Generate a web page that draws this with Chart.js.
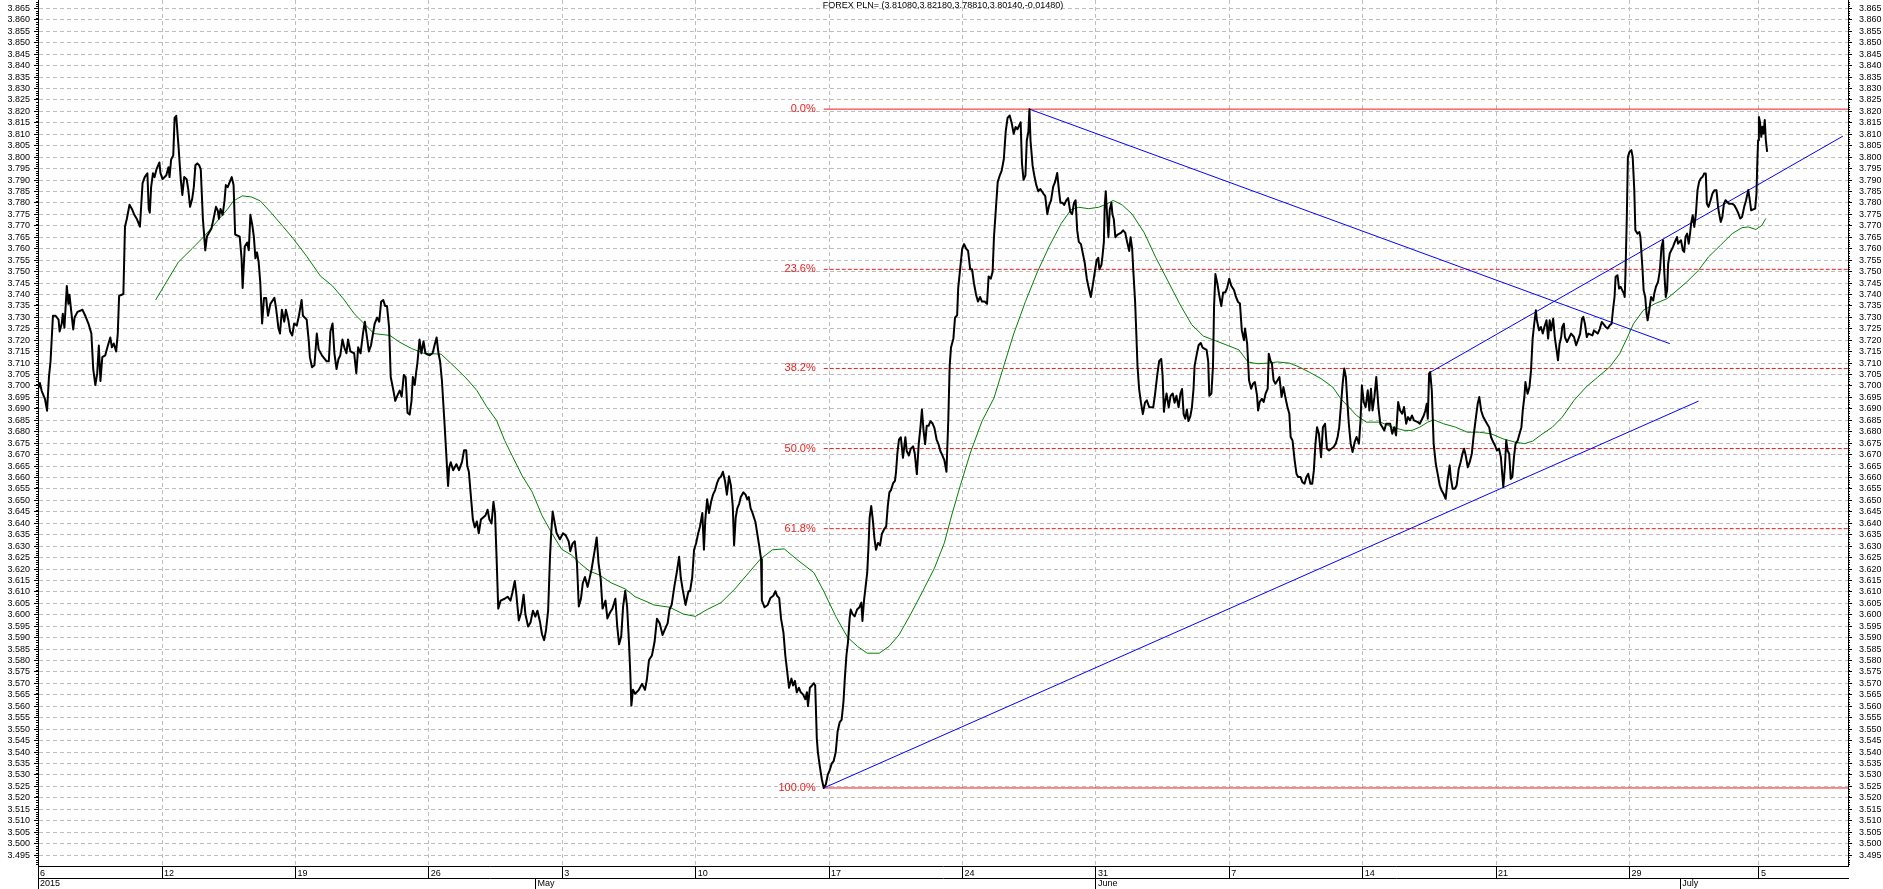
<!DOCTYPE html>
<html>
<head>
<meta charset="utf-8">
<title>FOREX PLN=</title>
<script src="https://cdn.jsdelivr.net/npm/chart.js@4.4.0/dist/chart.umd.min.js"></script>
<style>
    html, body { margin: 0; padding: 0; background: #fff; }
    #grafico { display: block; }
</style>
</head>
<body>
<canvas id="grafico" width="1883" height="889"></canvas>
<script>
// trading-day axis: every week tick is 5 days apart
var dayTicks = [0.35, 5, 10, 15, 20, 25, 30, 35, 40, 45, 50, 55, 60, 64.85];
var dayLabels = ['6', '12', '19', '26', '3', '10', '17', '24', '31', '7', '14', '21', '29', '5'];
var monthTicks = [0.35, 19, 40, 61.9];
var monthLabels = ['2015', 'May', 'June', 'July'];

var titulo = 'FOREX PLN= (3.81080,3.82180,3.78810,3.80140,-0.01480)';

// [day, close]
var precio = [
    [0.35,3.6987],[0.42,3.7013],[0.49,3.6978],[0.61,3.6944],[0.69,3.6892],[0.76,3.7039],[0.82,3.7108],[0.91,3.7307],[1.01,3.7307],[1.12,3.7290],
    [1.16,3.7238],[1.24,3.7273],[1.28,3.7316],[1.34,3.7255],[1.43,3.7437],[1.49,3.7359],[1.53,3.7399],[1.59,3.7333],[1.67,3.7247],[1.72,3.7299],
    [1.83,3.7324],[2.02,3.7333],[2.12,3.7307],[2.24,3.7273],[2.35,3.7229],[2.42,3.7074],[2.50,3.7004],[2.57,3.7056],[2.63,3.7177],[2.69,3.7022],
    [2.76,3.7126],[2.87,3.7134],[2.97,3.7177],[3.06,3.7212],[3.12,3.7169],[3.19,3.7186],[3.28,3.7151],[3.34,3.7229],[3.39,3.7394],[3.55,3.7402],
    [3.61,3.7696],[3.68,3.7731],[3.78,3.7792],[3.87,3.7774],[3.96,3.7748],[4.05,3.7731],[4.17,3.7696],[4.27,3.7887],[4.35,3.7913],[4.45,3.7930],
    [4.50,3.7774],[4.54,3.7757],[4.59,3.7869],[4.66,3.7930],[4.72,3.7913],[4.79,3.7947],[4.90,3.7977],[4.94,3.7930],[5.02,3.7904],[5.16,3.7921],
    [5.24,3.7956],[5.28,3.7913],[5.34,3.7990],[5.42,3.8008],[5.47,3.8172],[5.53,3.8181],[5.62,3.8042],[5.70,3.7904],[5.76,3.7835],[5.83,3.7913],
    [5.92,3.7904],[5.98,3.7861],[6.05,3.7783],[6.13,3.7818],[6.19,3.7869],[6.25,3.7965],[6.32,3.7973],[6.39,3.7965],[6.45,3.7947],[6.53,3.7731],
    [6.62,3.7593],[6.68,3.7653],[6.85,3.7688],[6.93,3.7731],[7.02,3.7783],[7.09,3.7766],[7.13,3.7731],[7.19,3.7774],[7.27,3.7748],[7.34,3.7809],
    [7.39,3.7878],[7.46,3.7869],[7.61,3.7913],[7.68,3.7878],[7.74,3.7662],[7.91,3.7653],[7.98,3.7558],[8.02,3.7428],[8.10,3.7610],[8.19,3.7627],
    [8.25,3.7593],[8.31,3.7748],[8.38,3.7705],[8.44,3.7653],[8.50,3.7558],[8.56,3.7584],[8.62,3.7541],[8.68,3.7454],[8.75,3.7273],[8.82,3.7385],
    [8.90,3.7385],[8.97,3.7307],[9.06,3.7359],[9.21,3.7385],[9.27,3.7342],[9.36,3.7255],[9.42,3.7229],[9.49,3.7333],[9.58,3.7281],[9.64,3.7333],
    [9.73,3.7290],[9.80,3.7238],[9.88,3.7221],[9.95,3.7273],[10.05,3.7264],[10.13,3.7307],[10.23,3.7376],[10.28,3.7307],[10.42,3.7290],[10.50,3.7195],
    [10.54,3.7126],[10.62,3.7082],[10.71,3.7091],[10.80,3.7229],[10.87,3.7160],[10.99,3.7134],[11.17,3.7108],[11.25,3.7108],[11.31,3.7238],[11.39,3.7273],
    [11.46,3.7143],[11.54,3.7074],[11.61,3.7117],[11.68,3.7134],[11.76,3.7203],[11.83,3.7169],[11.91,3.7143],[11.97,3.7203],[12.06,3.7151],[12.20,3.7143],
    [12.28,3.7056],[12.35,3.7169],[12.44,3.7143],[12.53,3.7229],[12.60,3.7281],[12.68,3.7212],[12.75,3.7151],[12.83,3.7177],[12.97,3.7273],[13.06,3.7299],
    [13.14,3.7281],[13.21,3.7368],[13.29,3.7376],[13.36,3.7350],[13.43,3.7350],[13.51,3.7255],[13.57,3.7039],[13.66,3.6987],[13.74,3.6935],[13.83,3.6961],
    [13.91,3.6980],[13.98,3.6953],[14.06,3.7048],[14.13,3.7039],[14.20,3.6883],[14.28,3.6875],[14.35,3.6935],[14.40,3.7039],[14.47,3.7004],[14.52,3.7056],
    [14.57,3.7100],[14.65,3.7203],[14.72,3.7143],[14.80,3.7195],[14.87,3.7143],[15.02,3.7134],[15.14,3.7143],[15.21,3.7177],[15.29,3.7212],[15.36,3.7143],
    [15.42,3.7108],[15.49,3.7022],[15.58,3.6849],[15.64,3.6728],[15.72,3.6563],[15.76,3.6641],[15.82,3.6667],[15.91,3.6632],[16.03,3.6658],[16.13,3.6632],
    [16.24,3.6667],[16.32,3.6719],[16.40,3.6719],[16.44,3.6650],[16.50,3.6624],[16.58,3.6511],[16.65,3.6416],[16.72,3.6382],[16.80,3.6408],[16.87,3.6356],
    [16.95,3.6416],[17.12,3.6434],[17.20,3.6459],[17.27,3.6416],[17.35,3.6399],[17.42,3.6494],[17.48,3.6442],[17.54,3.6243],[17.60,3.6027],[17.69,3.6062],
    [17.84,3.6070],[17.95,3.6079],[18.06,3.6062],[18.13,3.6096],[18.22,3.6148],[18.28,3.6088],[18.37,3.5975],[18.46,3.6010],[18.55,3.6088],[18.62,3.6001],
    [18.72,3.5949],[18.81,3.5966],[18.90,3.6018],[18.99,3.5992],[19.07,3.6018],[19.17,3.5966],[19.24,3.5915],[19.32,3.5889],[19.39,3.5932],[19.47,3.6018],
    [19.54,3.6252],[19.58,3.6347],[19.64,3.6451],[19.72,3.6399],[19.79,3.6356],[19.91,3.6330],[20.03,3.6356],[20.13,3.6347],[20.24,3.6321],[20.30,3.6278],
    [20.39,3.6312],[20.47,3.6321],[20.55,3.6226],[20.62,3.6036],[20.70,3.6070],[20.77,3.6139],[20.85,3.6165],[20.95,3.6122],[21.02,3.6157],[21.10,3.6200],
    [21.21,3.6278],[21.29,3.6338],[21.36,3.6226],[21.44,3.6157],[21.51,3.6027],[21.62,3.6062],[21.69,3.5984],[21.79,3.6010],[21.88,3.6027],[21.99,3.6070],
    [22.06,3.5949],[22.13,3.5871],[22.21,3.5906],[22.28,3.6036],[22.36,3.6105],[22.43,3.6036],[22.50,3.5880],[22.55,3.5742],[22.59,3.5603],[22.65,3.5672],
    [22.73,3.5655],[22.87,3.5672],[22.99,3.5698],[23.10,3.5672],[23.17,3.5716],[23.25,3.5802],[23.36,3.5822],[23.46,3.5882],[23.55,3.5983],[23.65,3.5963],
    [23.76,3.5912],[23.87,3.5943],[23.95,3.5963],[24.02,3.6023],[24.10,3.6043],[24.20,3.6123],[24.29,3.6184],[24.38,3.6254],[24.44,3.6164],[24.51,3.6113],
    [24.62,3.6043],[24.73,3.6103],[24.79,3.6103],[24.87,3.6164],[24.94,3.6284],[25.02,3.6314],[25.09,3.6354],[25.16,3.6385],[25.25,3.6445],[25.31,3.6284],
    [25.36,3.6415],[25.43,3.6505],[25.50,3.6445],[25.58,3.6495],[25.65,3.6525],[25.73,3.6545],[25.80,3.6575],[25.87,3.6595],[25.95,3.6605],[26.02,3.6625],
    [26.10,3.6585],[26.17,3.6525],[26.25,3.6605],[26.32,3.6565],[26.39,3.6475],[26.44,3.6304],[26.50,3.6425],[26.56,3.6465],[26.63,3.6485],[26.69,3.6515],
    [26.79,3.6535],[26.87,3.6525],[26.93,3.6505],[26.99,3.6515],[27.06,3.6465],[27.13,3.6445],[27.24,3.6405],[27.31,3.6354],[27.39,3.6294],[27.45,3.6244],
    [27.48,3.6063],[27.58,3.6033],[27.70,3.6043],[27.80,3.6073],[27.91,3.6083],[27.99,3.6103],[28.05,3.6083],[28.13,3.6073],[28.20,3.5983],[28.29,3.5922],
    [28.36,3.5822],[28.42,3.5762],[28.50,3.5681],[28.59,3.5721],[28.65,3.5691],[28.72,3.5711],[28.79,3.5661],[28.87,3.5681],[28.94,3.5661],[29.03,3.5651],
    [29.11,3.5631],[29.17,3.5661],[29.21,3.5601],[29.28,3.5681],[29.36,3.5691],[29.43,3.5701],[29.48,3.5691],[29.54,3.5460],[29.58,3.5400],[29.65,3.5340],
    [29.73,3.5280],[29.80,3.5243],[29.88,3.5259],[29.95,3.5300],[30.02,3.5320],[30.10,3.5350],[30.17,3.5360],[30.25,3.5400],[30.32,3.5490],[30.40,3.5531],
    [30.47,3.5541],[30.54,3.5621],[30.59,3.5721],[30.65,3.5822],[30.71,3.5882],[30.77,3.5983],[30.81,3.6023],[30.88,3.6003],[30.96,3.5993],[31.05,3.6023],
    [31.14,3.6033],[31.21,3.6053],[31.25,3.5973],[31.31,3.6063],[31.37,3.6123],[31.43,3.6184],[31.48,3.6304],[31.52,3.6425],[31.58,3.6475],[31.64,3.6415],
    [31.70,3.6334],[31.76,3.6284],[31.83,3.6314],[31.91,3.6304],[31.98,3.6354],[32.07,3.6375],[32.14,3.6385],[32.20,3.6475],[32.26,3.6535],[32.32,3.6545],
    [32.40,3.6575],[32.47,3.6585],[32.51,3.6625],[32.56,3.6706],[32.62,3.6766],[32.69,3.6776],[32.77,3.6686],[32.86,3.6776],[32.91,3.6716],[32.99,3.6696],
    [33.06,3.6726],[33.15,3.6736],[33.21,3.6706],[33.29,3.6615],[33.36,3.6746],[33.43,3.6826],[33.48,3.6897],[33.54,3.6806],[33.60,3.6746],[33.66,3.6826],
    [33.73,3.6826],[33.80,3.6846],[33.88,3.6836],[33.95,3.6816],[34.03,3.6766],[34.10,3.6746],[34.17,3.6716],[34.25,3.6696],[34.32,3.6676],[34.40,3.6625],
    [34.47,3.6857],[34.52,3.7088],[34.57,3.7168],[34.66,3.7208],[34.72,3.7299],[34.80,3.7309],[34.84,3.7429],[34.92,3.7520],[34.99,3.7600],[35.06,3.7620],
    [35.14,3.7600],[35.21,3.7590],[35.29,3.7510],[35.36,3.7510],[35.43,3.7449],[35.51,3.7399],[35.58,3.7369],[35.66,3.7389],[35.73,3.7369],[35.83,3.7369],
    [35.92,3.7359],[35.98,3.7479],[36.06,3.7469],[36.13,3.7499],[36.18,3.7650],[36.25,3.7771],[36.32,3.7891],[36.40,3.7921],[36.47,3.7941],[36.55,3.7992],
    [36.62,3.8112],[36.69,3.8172],[36.77,3.8182],[36.84,3.8152],[36.92,3.8102],[36.99,3.8132],[37.06,3.8122],[37.14,3.8142],[37.18,3.8152],[37.23,3.7972],
    [37.29,3.7901],[37.36,3.7921],[37.41,3.8072],[37.47,3.8112],[37.51,3.8210],[37.55,3.8072],[37.63,3.7962],[37.69,3.7921],[37.76,3.7881],[37.84,3.7851],
    [37.92,3.7861],[38.03,3.7841],[38.10,3.7831],[38.18,3.7751],[38.25,3.7791],[38.32,3.7811],[38.40,3.7871],[38.47,3.7891],[38.55,3.7931],[38.62,3.7851],
    [38.67,3.7801],[38.75,3.7801],[38.81,3.7791],[38.89,3.7811],[38.96,3.7821],[39.04,3.7761],[39.11,3.7751],[39.18,3.7801],[39.24,3.7811],[39.30,3.7680],
    [39.36,3.7630],[39.44,3.7620],[39.51,3.7580],[39.58,3.7540],[39.66,3.7469],[39.73,3.7429],[39.81,3.7389],[39.88,3.7439],[39.96,3.7499],[40.03,3.7550],
    [40.09,3.7560],[40.13,3.7510],[40.21,3.7530],[40.25,3.7570],[40.30,3.7630],[40.33,3.7781],[40.37,3.7851],[40.43,3.7730],[40.47,3.7650],[40.52,3.7771],
    [40.58,3.7801],[40.62,3.7751],[40.67,3.7730],[40.73,3.7650],[40.80,3.7660],[40.95,3.7670],[41.02,3.7680],[41.10,3.7670],[41.17,3.7630],[41.25,3.7590],
    [41.30,3.7650],[41.36,3.7600],[41.41,3.7489],[41.47,3.7369],[41.51,3.7248],[41.56,3.7088],[41.62,3.6987],[41.69,3.6927],[41.76,3.6877],[41.84,3.6927],
    [41.91,3.6937],[42.00,3.6907],[42.07,3.6907],[42.15,3.6907],[42.22,3.6967],[42.30,3.7047],[42.37,3.7108],[42.45,3.7118],[42.50,3.7047],[42.55,3.6887],
    [42.59,3.6927],[42.65,3.6967],[42.73,3.6907],[42.80,3.6957],[42.88,3.6967],[42.95,3.6927],[43.02,3.6957],[43.10,3.6907],[43.17,3.6967],[43.23,3.6987],
    [43.29,3.6877],[43.35,3.6857],[43.41,3.6897],[43.47,3.6847],[43.54,3.6867],[43.60,3.6907],[43.66,3.6987],[43.70,3.7088],[43.78,3.7138],[43.85,3.7178],
    [43.93,3.7188],[44.00,3.7168],[44.15,3.7158],[44.21,3.7108],[44.25,3.6957],[44.33,3.6967],[44.39,3.7088],[44.43,3.7349],[44.48,3.7489],[44.55,3.7449],
    [44.62,3.7399],[44.70,3.7349],[44.77,3.7409],[44.85,3.7409],[44.92,3.7429],[45.00,3.7469],[45.07,3.7439],[45.18,3.7418],[45.25,3.7389],[45.33,3.7367],
    [45.40,3.7360],[45.47,3.7243],[45.55,3.7200],[45.59,3.7251],[45.67,3.7185],[45.74,3.7025],[45.82,3.6988],[45.89,3.7010],[45.96,3.7017],[46.04,3.6959],
    [46.08,3.6893],[46.14,3.6930],[46.22,3.6944],[46.29,3.6930],[46.36,3.6966],[46.44,3.6988],[46.48,3.7141],[46.54,3.7112],[46.60,3.7097],[46.66,3.7025],
    [46.73,3.7010],[46.81,3.7025],[46.88,3.7039],[46.96,3.6952],[47.03,3.6995],[47.10,3.6952],[47.18,3.6908],[47.25,3.6879],[47.30,3.6777],[47.37,3.6762],
    [47.45,3.6675],[47.52,3.6616],[47.58,3.6602],[47.67,3.6602],[47.74,3.6580],[47.82,3.6573],[47.89,3.6602],[47.96,3.6616],[48.04,3.6573],[48.11,3.6573],
    [48.17,3.6631],[48.23,3.6748],[48.29,3.6820],[48.36,3.6791],[48.44,3.6689],[48.51,3.6820],[48.59,3.6835],[48.66,3.6726],[48.74,3.6718],[48.91,3.6733],
    [48.99,3.6748],[49.06,3.6777],[49.12,3.6820],[49.18,3.6908],[49.25,3.7010],[49.31,3.7076],[49.37,3.7039],[49.43,3.6922],[49.48,3.6835],[49.55,3.6748],
    [49.62,3.6711],[49.70,3.6755],[49.77,3.6777],[49.86,3.6748],[49.92,3.6850],[49.97,3.7003],[50.04,3.6930],[50.11,3.6908],[50.19,3.6981],[50.25,3.6893],
    [50.31,3.6988],[50.37,3.6893],[50.44,3.6952],[50.51,3.7039],[50.59,3.6908],[50.66,3.6835],[50.81,3.6806],[50.88,3.6835],[51.03,3.6835],[51.11,3.6791],
    [51.18,3.6820],[51.25,3.6784],[51.33,3.6930],[51.40,3.6893],[51.48,3.6879],[51.55,3.6908],[51.63,3.6835],[51.70,3.6864],[51.77,3.6850],[51.85,3.6871],
    [51.92,3.6850],[52.07,3.6842],[52.14,3.6835],[52.29,3.6871],[52.35,3.6893],[52.40,3.6922],[52.44,3.6857],[52.49,3.7054],[52.53,3.7061],[52.59,3.6981],
    [52.66,3.6748],[52.74,3.6660],[52.81,3.6616],[52.89,3.6565],[52.96,3.6543],[53.03,3.6529],[53.11,3.6507],[53.18,3.6587],[53.26,3.6653],[53.30,3.6602],
    [53.37,3.6551],[53.45,3.6551],[53.52,3.6565],[53.60,3.6638],[53.67,3.6667],[53.74,3.6704],[53.80,3.6726],[53.86,3.6697],[53.94,3.6645],[54.01,3.6667],
    [54.09,3.6704],[54.16,3.6784],[54.23,3.6850],[54.31,3.6922],[54.37,3.6952],[54.44,3.6893],[54.52,3.6864],[54.66,3.6835],[54.74,3.6820],[54.81,3.6777],
    [54.89,3.6755],[54.96,3.6740],[55.03,3.6718],[55.11,3.6726],[55.18,3.6689],[55.23,3.6616],[55.27,3.6558],[55.33,3.6645],[55.38,3.6762],[55.43,3.6718],
    [55.49,3.6704],[55.55,3.6594],[55.61,3.6602],[55.67,3.6689],[55.73,3.6748],[55.81,3.6762],[55.88,3.6791],[55.95,3.6820],[56.00,3.6893],[56.06,3.6952],
    [56.10,3.7017],[56.18,3.6966],[56.25,3.6995],[56.31,3.7068],[56.37,3.7207],[56.43,3.7272],[56.49,3.7331],[56.53,3.7287],[56.61,3.7243],[56.68,3.7258],
    [56.75,3.7229],[56.81,3.7258],[56.89,3.7287],[56.95,3.7207],[57.01,3.7287],[57.06,3.7243],[57.14,3.7294],[57.20,3.7214],[57.27,3.7156],[57.32,3.7112],
    [57.38,3.7185],[57.44,3.7214],[57.48,3.7258],[57.54,3.7272],[57.58,3.7214],[57.66,3.7192],[57.81,3.7229],[57.92,3.7214],[58.00,3.7178],[58.07,3.7200],
    [58.15,3.7229],[58.22,3.7294],[58.27,3.7302],[58.33,3.7272],[58.40,3.7214],[58.46,3.7229],[58.61,3.7221],[58.67,3.7243],[58.81,3.7229],[58.89,3.7251],
    [58.96,3.7280],[59.11,3.7258],[59.18,3.7251],[59.26,3.7265],[59.33,3.7272],[59.38,3.7331],[59.44,3.7389],[59.48,3.7477],[59.55,3.7484],[59.61,3.7426],
    [59.67,3.7433],[59.73,3.7418],[59.79,3.7404],[59.82,3.7389],[59.85,3.7491],[59.90,3.7739],[59.94,3.8001],[60.00,3.8023],[60.07,3.8031],[60.12,3.8001],
    [60.18,3.7856],[60.22,3.7681],[60.30,3.7666],[60.37,3.7673],[60.41,3.7651],[60.49,3.7506],[60.53,3.7418],[60.59,3.7389],[60.64,3.7316],[60.68,3.7287],
    [60.74,3.7331],[60.81,3.7389],[60.89,3.7374],[60.93,3.7404],[60.99,3.7433],[61.07,3.7455],[61.14,3.7506],[61.20,3.7608],[61.26,3.7637],[61.30,3.7506],
    [61.36,3.7389],[61.41,3.7418],[61.45,3.7535],[61.51,3.7579],[61.63,3.7608],[61.70,3.7630],[61.78,3.7651],[61.82,3.7622],[61.93,3.7637],[62.00,3.7593],
    [62.05,3.7586],[62.10,3.7651],[62.16,3.7666],[62.22,3.7622],[62.27,3.7666],[62.31,3.7710],[62.37,3.7746],[62.43,3.7695],[62.49,3.7754],[62.55,3.7856],
    [62.61,3.7892],[62.67,3.7907],[62.74,3.7914],[62.80,3.7929],[62.86,3.7929],[62.90,3.7797],[62.96,3.7783],[63.04,3.7812],[63.11,3.7841],[63.19,3.7856],
    [63.26,3.7856],[63.32,3.7783],[63.36,3.7754],[63.42,3.7717],[63.48,3.7739],[63.54,3.7797],[63.60,3.7812],[63.72,3.7797],[63.85,3.7797],[63.93,3.7790],
    [64.00,3.7775],[64.08,3.7754],[64.15,3.7732],[64.22,3.7739],[64.30,3.7783],[64.37,3.7812],[64.45,3.7856],[64.51,3.7812],[64.56,3.7768],[64.71,3.7775],
    [64.76,3.7841],[64.79,3.7972],[64.82,3.8074],[64.85,3.8176],[64.89,3.8154],[64.94,3.8089],[64.98,3.8133],[65.02,3.8103],[65.07,3.8162],[65.11,3.8074],
    [65.16,3.8023]
];

// moving average [day, value]
var media = [
    [4.76,3.7376],[5.16,3.7454],[5.61,3.7541],[6.13,3.7601],[6.57,3.7653],[7.02,3.7714],[7.46,3.7774],[7.68,3.7809],[8.01,3.7831],[8.35,3.7826],
    [8.68,3.7809],[9.09,3.7757],[9.54,3.7696],[9.91,3.7645],[10.42,3.7567],[10.94,3.7480],[11.39,3.7437],[11.83,3.7376],[12.20,3.7316],[12.57,3.7273],
    [12.94,3.7229],[13.54,3.7221],[13.91,3.7191],[14.35,3.7164],[14.80,3.7143],[15.46,3.7139],[15.98,3.7082],[16.43,3.7030],[16.80,3.6980],[17.17,3.6909],
    [17.54,3.6849],[17.84,3.6762],[18.13,3.6693],[18.50,3.6607],[18.87,3.6537],[19.24,3.6434],[19.61,3.6356],[19.98,3.6286],[20.36,3.6260],[20.65,3.6226],
    [21.02,3.6191],[21.39,3.6174],[21.84,3.6139],[22.36,3.6113],[22.73,3.6079],[23.25,3.6053],[23.43,3.6043],[24.02,3.6033],[24.54,3.6003],[24.99,3.5993],
    [25.43,3.6023],[25.95,3.6053],[26.47,3.6113],[26.99,3.6184],[27.43,3.6244],[27.88,3.6284],[28.32,3.6288],[28.77,3.6244],[29.43,3.6184],[29.80,3.6103],
    [30.25,3.5993],[30.69,3.5902],[31.06,3.5862],[31.43,3.5832],[31.88,3.5832],[32.25,3.5862],[32.62,3.5912],[33.06,3.6003],[33.51,3.6103],[33.95,3.6204],
    [34.32,3.6314],[34.62,3.6445],[34.92,3.6565],[35.29,3.6706],[35.73,3.6846],[36.18,3.6947],[36.55,3.7088],[36.92,3.7228],[37.36,3.7369],[37.81,3.7499],
    [38.25,3.7610],[38.70,3.7710],[39.07,3.7771],[39.36,3.7781],[39.73,3.7775],[40.10,3.7781],[40.40,3.7795],[40.65,3.7811],[40.99,3.7791],[41.36,3.7751],
    [41.81,3.7670],[42.25,3.7560],[42.70,3.7459],[43.14,3.7359],[43.59,3.7268],[44.03,3.7218],[44.48,3.7198],[44.92,3.7178],[45.36,3.7158],[45.70,3.7105],
    [46.07,3.7097],[46.44,3.7100],[46.81,3.7105],[47.25,3.7100],[47.62,3.7083],[47.99,3.7061],[48.44,3.7032],[48.88,3.6995],[49.18,3.6944],[49.48,3.6908],
    [49.77,3.6871],[50.14,3.6842],[50.66,3.6842],[51.11,3.6820],[51.55,3.6806],[51.85,3.6806],[52.14,3.6820],[52.44,3.6842],[52.66,3.6852],[53.03,3.6835],
    [53.48,3.6820],[53.92,3.6798],[54.37,3.6798],[54.81,3.6791],[55.26,3.6769],[55.70,3.6755],[56.07,3.6748],[56.37,3.6759],[56.74,3.6791],[57.11,3.6820],
    [57.48,3.6864],[57.92,3.6937],[58.37,3.6995],[58.81,3.7039],[59.26,3.7083],[59.63,3.7141],[59.93,3.7214],[60.15,3.7272],[60.52,3.7331],[60.96,3.7360],
    [61.41,3.7382],[61.78,3.7418],[62.15,3.7455],[62.59,3.7506],[62.96,3.7564],[63.41,3.7615],[63.85,3.7666],[64.22,3.7692],[64.45,3.7695],[64.74,3.7684],
    [64.96,3.7702],[65.11,3.7732]
];

// trend lines: start and end points [day, value]
var lineaBajista = [[37.51, 3.8210], [61.51, 3.7185]];
var lineaSoporte = [[29.80, 3.5243], [62.59, 3.6934]];
var lineaCanal = [[52.49, 3.7057], [68.00, 3.8092]];

// fibonacci retracement
var fibAlto = 3.8210;
var fibBajo = 3.5243;
var fibDesde = 29.8;
var fibNiveles = [0, 0.236, 0.382, 0.5, 0.618, 1];
var fibEtiquetas = ['0.0%', '23.6%', '38.2%', '50.0%', '61.8%', '100.0%'];

var xMin = 0.35, xMax = 68.19;
var yMin = 3.4902, yMax = 3.8687;

var fuente = '"Liberation Sans", Arial, sans-serif';
var fuenteEje = { family: fuente, size: 9 };
var gris = '#bdbdbd';
var rojo = '#ee1c1c';

function aPuntos(lista) {
    return lista.map(function(p) { return { x: p[0], y: p[1] }; });
}

function nivelFib(r) {
    return fibAlto - r * (fibAlto - fibBajo);
}

var datasets = [
    { data: aPuntos(precio), borderColor: '#000', borderWidth: 2, borderJoinStyle: 'round' },
    { data: aPuntos(media), borderColor: '#008000', borderWidth: 1 },
    { data: aPuntos(lineaBajista), borderColor: '#0000ff', borderWidth: 1 },
    { data: aPuntos(lineaSoporte), borderColor: '#0000ff', borderWidth: 1 },
    { data: aPuntos(lineaCanal), borderColor: '#0000ff', borderWidth: 1 }
];

fibNiveles.forEach(function(r) {
    var solida = (r === 0 || r === 1);
    datasets.push({
        data: [{ x: fibDesde, y: nivelFib(r) }, { x: xMax, y: nivelFib(r) }],
        borderColor: rojo,
        borderWidth: 1,
        borderDash: solida ? [] : [4, 2]
    });
});

datasets.forEach(function(d) {
    d.pointRadius = 0;
    d.tension = 0;
    d.fill = false;
});

var extras = {
    id: 'extras',
    afterDraw: function(chart) {
        var ctx = chart.ctx;
        var ejeY = chart.scales.y;
        var ejeY2 = chart.scales.y2;
        var ejeX = chart.scales.x;
        var area = chart.chartArea;
        ctx.save();

        // minor ticks every 0.001
        ctx.strokeStyle = '#000';
        ctx.lineWidth = 1;
        ctx.beginPath();
        for (var k = Math.ceil(yMin * 1000); k <= Math.floor(yMax * 1000); k++) {
            if (k % 5 === 0) continue;
            var py = Math.round(ejeY.getPixelForValue(k / 1000)) + 0.5;
            ctx.moveTo(area.left - 2, py);
            ctx.lineTo(area.left, py);
            ctx.moveTo(area.right, py);
            ctx.lineTo(area.right + 2, py);
        }
        ctx.stroke();

        // fibonacci labels
        ctx.font = '11px ' + fuente;
        ctx.fillStyle = rojo;
        ctx.textAlign = 'right';
        ctx.textBaseline = 'middle';
        var fx = ejeX.getPixelForValue(fibDesde) - 8;
        fibNiveles.forEach(function(r, i) {
            ctx.fillText(fibEtiquetas[i], fx, ejeY.getPixelForValue(nivelFib(r)));
        });

        // title
        ctx.font = '9px ' + fuente;
        ctx.fillStyle = '#000';
        ctx.textAlign = 'center';
        ctx.textBaseline = 'top';
        ctx.fillText(titulo, (area.left + area.right) / 2, 1);
        ctx.restore();
    }
};

function ejeVertical(pos, ancho, relleno, rejilla) {
    return {
        type: 'linear',
        position: pos,
        min: yMin,
        max: yMax,
        afterFit: function(s) { s.width = ancho; s.paddingTop = 0; s.paddingBottom = 0; },
        ticks: {
            stepSize: 0.005,
            includeBounds: false,
            autoSkip: false,
            padding: relleno,
            color: '#000',
            font: fuenteEje,
            callback: function(v) { return v.toFixed(3); }
        },
        grid: { drawOnChartArea: rejilla, color: gris, tickLength: 4, tickColor: '#000' },
        border: { color: '#000', dash: [4, 3] }
    };
}

var ctx = document.getElementById('grafico');
var chart = new Chart(ctx, {
    type: 'line',
    data: { datasets: datasets },
    options: {
        responsive: false,
        animation: false,
        events: [],
        layout: { padding: 0 },
        plugins: {
            legend: { display: false },
            tooltip: { enabled: false },
            title: { display: false }
        },
        scales: {
            x: {
                type: 'linear',
                position: 'bottom',
                weight: 0,
                min: xMin,
                max: xMax,
                afterBuildTicks: function(s) { s.ticks = dayTicks.map(function(v) { return { value: v }; }); },
                afterFit: function(s) { s.height = 12; s.paddingLeft = 0; s.paddingRight = 0; },
                ticks: {
                    autoSkip: false,
                    maxRotation: 0,
                    minRotation: 0,
                    align: 'start',
                    labelOffset: 2,
                    padding: -10,
                    color: '#000',
                    font: fuenteEje,
                    callback: function(v, i) { return dayLabels[i]; }
                },
                grid: { color: gris, tickLength: 12, tickColor: '#000' },
                border: { color: '#000', dash: [4, 3] }
            },
            xm: {
                type: 'linear',
                position: 'bottom',
                weight: 1,
                min: xMin,
                max: xMax,
                afterBuildTicks: function(s) { s.ticks = monthTicks.map(function(v) { return { value: v }; }); },
                afterFit: function(s) { s.height = 11; s.paddingLeft = 0; s.paddingRight = 0; },
                ticks: {
                    autoSkip: false,
                    maxRotation: 0,
                    minRotation: 0,
                    align: 'start',
                    labelOffset: 2,
                    padding: -11,
                    color: '#000',
                    font: fuenteEje,
                    callback: function(v, i) { return monthLabels[i]; }
                },
                grid: { drawOnChartArea: false, tickLength: 11, tickColor: '#000' },
                border: { color: '#000' }
            },
            y: ejeVertical('left', 38, 4, true),
            y2: ejeVertical('right', 35, 7, false)
        }
    },
    plugins: [extras]
});
</script>
</body>
</html>
